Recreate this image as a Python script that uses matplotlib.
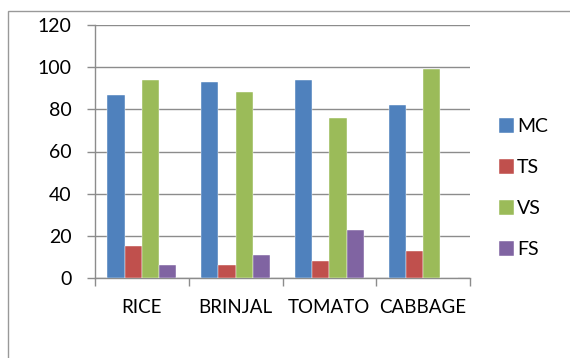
import matplotlib
matplotlib.use("Agg")
import matplotlib.pyplot as plt
import numpy as np
from matplotlib.patches import Rectangle

plt.rcParams['font.family'] = ['Lato', 'DejaVu Sans']

# data
crops = ["RICE", "BRINJAL", "TOMATO", "CABBAGE"]
series = ["MC", "TS", "VS", "FS"]
mc = [87, 93, 94, 82]
ts = [15, 6, 8, 13]
vs = [94, 88, 76, 99]
fs = [6, 11, 23, 0]
colors = ["#4F81BD", "#C0504D", "#9BBB59", "#8064A2"]

fig = plt.figure(figsize=(5.70, 3.58), dpi=100)
# outer chart frame (Excel style)
fig.patches.append(Rectangle((8 / 570, -0.01), 1.0, 1 - 11 / 358 + 0.01,
                             transform=fig.transFigure, fill=False,
                             edgecolor="#999999", linewidth=1.0))

ax = fig.add_axes([95 / 570, 1 - 278 / 358, 375 / 570, 253 / 358])

x = np.arange(len(crops))
w = 0.184
for i, (name, vals) in enumerate(zip(series, [mc, ts, vs, fs])):
    ax.bar(x + (i - 1.5) * w, vals, w, color=colors[i], label=name,
           edgecolor="white", linewidth=0.3, zorder=3)

ax.set_xlim(-0.5, len(crops) - 0.5)
ax.set_ylim(0, 120)
ax.set_yticks(range(0, 121, 20))
ax.yaxis.grid(True, color="#8c8c8c", linewidth=1.0, zorder=0)
ax.set_axisbelow(True)

for s in ["top", "right"]:
    ax.spines[s].set_visible(False)
for s in ["left", "bottom"]:
    ax.spines[s].set_color("#8c8c8c")
    ax.spines[s].set_linewidth(1.0)

# category boundary ticks
ax.set_xticks(np.arange(-0.5, len(crops), 1.0))
ax.set_xticklabels([])
ax.set_xticks(x, minor=True)
ax.set_xticklabels(crops, minor=True, fontsize=13.5)
ax.tick_params(axis="x", which="major", length=6, color="#8c8c8c", width=1.0)
ax.tick_params(axis="x", which="minor", length=0, pad=15)
ax.tick_params(axis="y", length=6, color="#8c8c8c", width=1.0,
               labelsize=14, pad=11)

ax.legend(loc="center left", bbox_to_anchor=(1.077, 0.356), frameon=False,
          fontsize=14, handlelength=0.78, handleheight=0.8,
          handletextpad=0.15, labelspacing=1.22, borderpad=0,
          borderaxespad=0)

fig.savefig("out.png", dpi=100)
